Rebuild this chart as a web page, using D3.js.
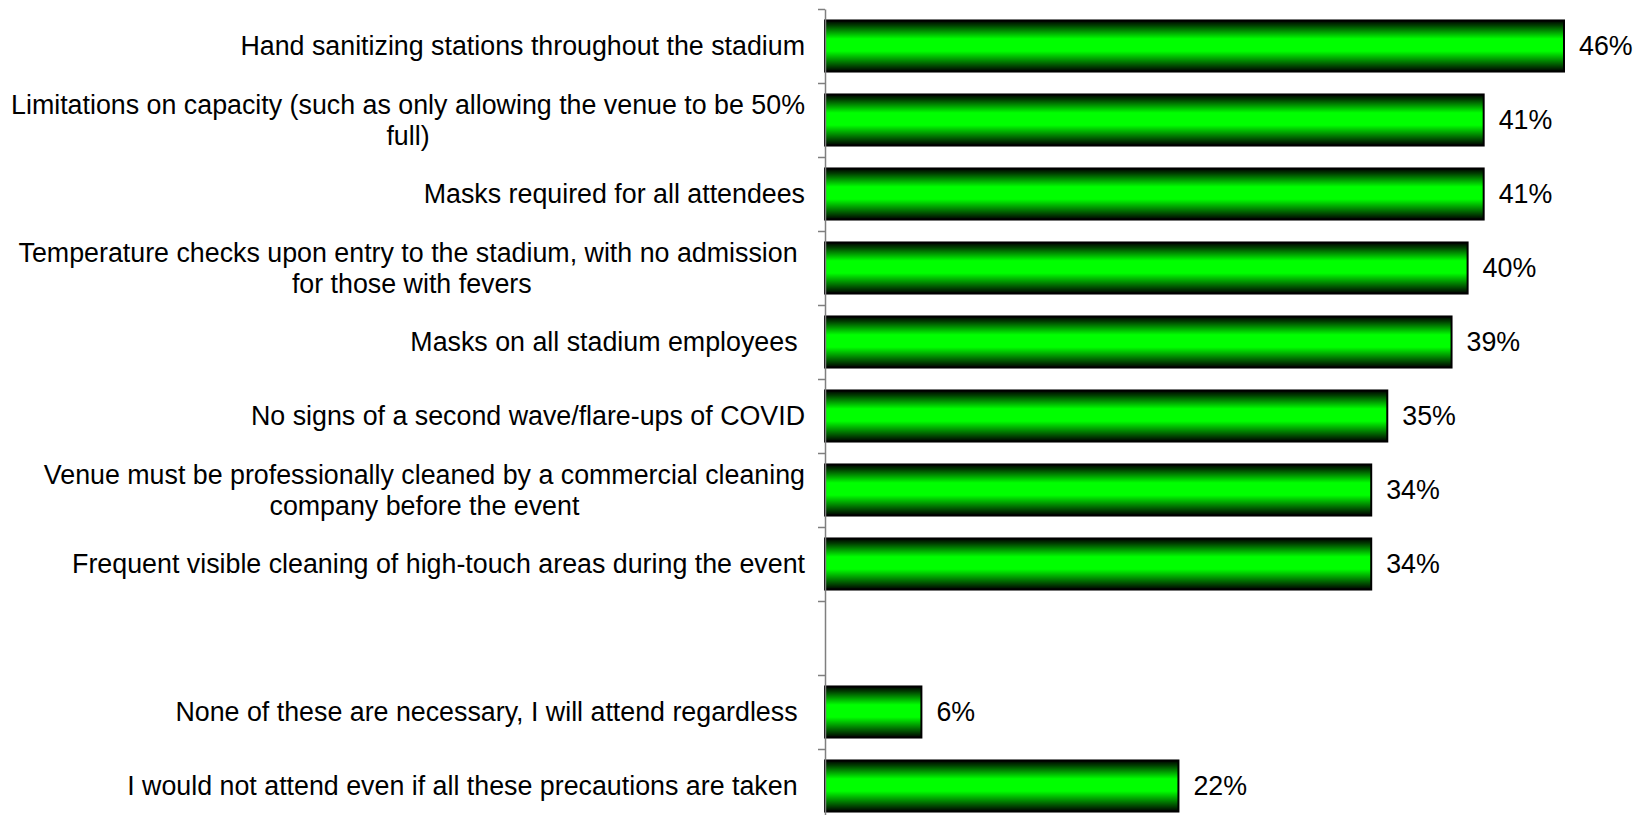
<!DOCTYPE html>
<html>
<head>
<meta charset="utf-8">
<script src="https://cdn.jsdelivr.net/npm/d3@7"></script>
<style>
  html, body { margin: 0; padding: 0; background: #ffffff; }
  svg { display: block; }
  text { font-family: "Liberation Sans", Arial, sans-serif; fill: #000; white-space: pre; }
</style>
</head>
<body>
<svg id="chart" width="1643" height="815"></svg>
<script>
// Each category label is split into its wrapped lines; "" is the spacer row.
const categories = [
  ["Hand sanitizing stations throughout the stadium"],
  ["Limitations on capacity (such as only allowing the venue to be 50%", "full)"],
  ["Masks required for all attendees"],
  ["Temperature checks upon entry to the stadium, with no admission ", "for those with fevers"],
  ["Masks on all stadium employees "],
  ["No signs of a second wave/flare-ups of COVID"],
  ["Venue must be professionally cleaned by a commercial cleaning", "company before the event"],
  ["Frequent visible cleaning of high-touch areas during the event"],
  [""],
  ["None of these are necessary, I will attend regardless "],
  ["I would not attend even if all these precautions are taken "]
];
const values = [46, 41, 41, 40, 39, 35, 34, 34, null, 6, 22];

const svg = d3.select("#chart");
const axisX = 825;
const plotTop = 9, plotBottom = 823;
const fontSize = 26.8;

const ids = categories.map((c, i) => i);

const x = d3.scaleLinear().domain([0, 46]).range([axisX, 1564]);
const y = d3.scaleBand().domain(ids).range([plotTop, plotBottom])
  .paddingInner(0.31).paddingOuter(0.155);

// Gradient: dark edges, bright green core
const defs = svg.append("defs");
const grad = defs.append("linearGradient").attr("id", "barGrad")
  .attr("x1", 0).attr("y1", 0).attr("x2", 0).attr("y2", 1);
[[0, "#000000"], [0.1, "#004000"], [0.36, "#00ff00"], [0.6, "#00ff00"], [0.9, "#004000"], [1, "#000000"]]
  .forEach(([o, c]) => grad.append("stop").attr("offset", o).attr("stop-color", c));

// Bars
const rows = ids.filter(i => values[i] != null);
svg.append("g").selectAll("rect").data(rows).join("rect")
  .attr("x", x(0))
  .attr("y", i => y(i))
  .attr("width", i => x(values[i]) - x(0))
  .attr("height", y.bandwidth())
  .attr("fill", "url(#barGrad)")
  .attr("stroke", "#000")
  .attr("stroke-width", 2);

// Value labels
svg.append("g").selectAll("text").data(rows).join("text")
  .attr("x", i => x(values[i]) + 15)
  .attr("y", i => y(i) + y.bandwidth() / 2)
  .attr("dy", "0.35em")
  .attr("font-size", fontSize)
  .text(i => values[i] + "%");

// Category axis: ticks at row boundaries
const edge = d3.scaleLinear().domain([0, ids.length]).range([plotTop, plotBottom]);
const axis = svg.append("g").attr("transform", `translate(${axisX},0)`)
  .call(d3.axisLeft(edge).tickValues(d3.range(ids.length + 1)).tickFormat("").tickSize(7).tickSizeOuter(0));
axis.select(".domain").attr("stroke", "#7f7f7f").attr("stroke-width", 1.5);
axis.selectAll(".tick line").attr("stroke", "#7f7f7f").attr("stroke-width", 1.5);

// Category labels: block right-aligned, lines centred within it
const labelRight = 805;
const lineH = 31;
const lab = svg.append("g");
ids.forEach(i => {
  const lines = categories[i];
  if (!lines[0]) return;
  const cy = y(i) + y.bandwidth() / 2;
  const g = lab.append("g");
  const ts = lines.map((t, k) => g.append("text")
    .attr("font-size", fontSize)
    .attr("y", cy + (k - (lines.length - 1) / 2) * lineH)
    .attr("dy", "0.35em")
    .text(t));
  if (lines.length === 1) {
    ts[0].attr("x", labelRight).attr("text-anchor", "end");
  } else {
    const w = d3.max(ts, t => t.node().getComputedTextLength());
    ts.forEach(t => t.attr("x", labelRight - w / 2).attr("text-anchor", "middle"));
  }
});
</script>
</body>
</html>
